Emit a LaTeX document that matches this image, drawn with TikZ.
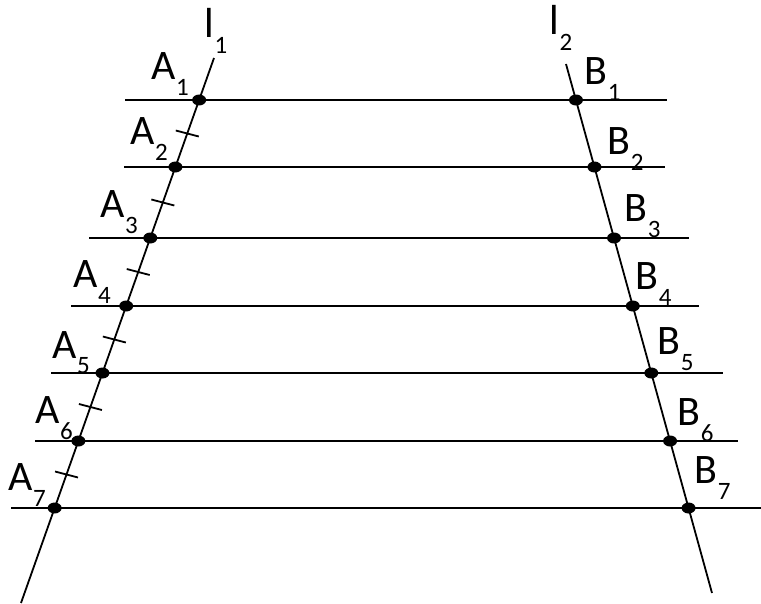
\documentclass[tikz,border=0pt]{standalone}
\usepackage{fontspec}
\setmainfont{Carlito}
\usetikzlibrary{shapes.geometric,calc}
\newcommand{\mylab}[2]{\fontsize{42}{42}\selectfont #1\raisebox{-16pt}{\fontsize{25}{25}\selectfont #2}}
\begin{document}
\begin{tikzpicture}[x=1pt,y=-1pt,line width=1.8pt,
  dot/.style={ellipse,fill=black,inner sep=0pt,minimum width=14pt,minimum height=11pt},
  lab/.style={anchor=base west,inner sep=0pt}]
\useasboundingbox (0,0) rectangle (761,604);
% transversals
\coordinate (l1top) at (214,58);
\coordinate (l1bot) at (21,603);
\coordinate (l2top) at (566,64);
\coordinate (l2bot) at (712,593);
% parallel lines ends
\coordinate (L1) at (125,100);   \coordinate (R1) at (667,100);
\coordinate (L2) at (124,167);   \coordinate (R2) at (665,167);
\coordinate (L3) at (89,238);    \coordinate (R3) at (689,238);
\coordinate (L4) at (71,306);    \coordinate (R4) at (699,306);
\coordinate (L5) at (51,373);    \coordinate (R5) at (723,373);
\coordinate (L6) at (35,441);    \coordinate (R6) at (738,441);
\coordinate (L7) at (11,508);    \coordinate (R7) at (761,508);
\draw (l1top) -- (l1bot);
\draw (l2top) -- (l2bot);
\foreach \i in {1,...,7}{
  \draw (L\i) -- (R\i);
  \node[dot] (A\i) at (intersection of l1top--l1bot and L\i--R\i) {};
  \node[dot] (B\i) at (intersection of l2top--l2bot and L\i--R\i) {};
}
% equal-segment ticks
\foreach \i/\j in {1/2,2/3,3/4,4/5,5/6,6/7}{
  \coordinate (m\i) at ($(A\i)!0.5!(A\j)$);
  \draw ([shift={(-11.5,-3)}]m\i) -- ([shift={(11.5,3)}]m\i);
}
% labels
\node[lab] (tl1) at (204,38) {\mylab{l}{1}};
\node[lab] (tl2) at (549,35) {\mylab{l}{2}};
\node[lab] (tA1) at (151,80) {\mylab{A}{1}};
\node[lab] (tA2) at (130,145) {\mylab{A}{2}};
\node[lab] (tA3) at (100,218) {\mylab{A}{3}};
\node[lab] (tA4) at (73,288) {\mylab{A}{4}};
\node[lab] (tA5) at (52,358) {\mylab{A}{5}};
\node[lab] (tA6) at (35,423) {\mylab{A}{6}};
\node[lab] (tA7) at (8,490) {\mylab{A}{7}};
\node[lab] (tB1) at (584,85) {\mylab{B}{1}};
\node[lab] (tB2) at (607,155) {\mylab{B}{2}};
\node[lab] (tB3) at (624,222) {\mylab{B}{3}};
\node[lab] (tB4) at (635,290) {\mylab{B}{4}};
\node[lab] (tB5) at (657,355) {\mylab{B}{5}};
\node[lab] (tB6) at (677,425) {\mylab{B}{6}};
\node[lab] (tB7) at (694,483) {\mylab{B}{7}};
\end{tikzpicture}
\end{document}
